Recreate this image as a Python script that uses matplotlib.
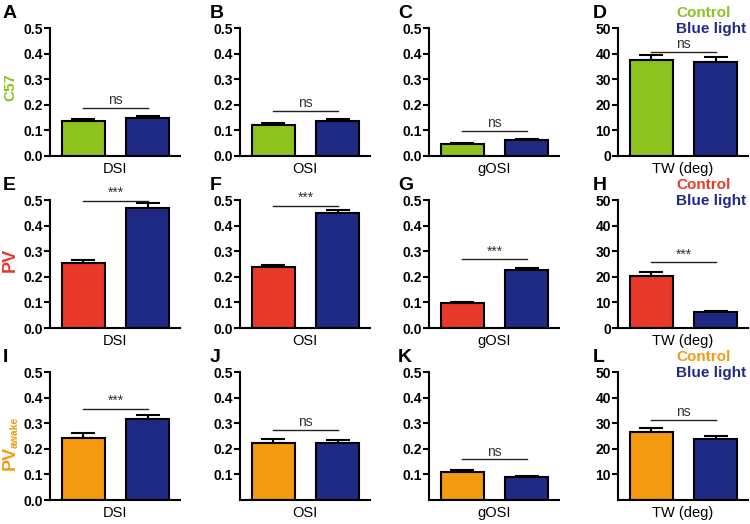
import matplotlib
matplotlib.use("Agg")
import matplotlib.pyplot as plt

plt.rcParams['font.family'] = ['Liberation Sans', 'DejaVu Sans']

# ---- data ----
groups = ["Control", "Blue light"]
row_names = ["C57", "PV", "PV", "awake"]
metrics = ["DSI", "OSI", "gOSI", "TW (deg)"]
panel_letters = [["A", "B", "C", "D"], ["E", "F", "G", "H"], ["I", "J", "K", "L"]]

# means [row][col] = (control, blue)
c57_means = [(0.137, 0.147), (0.121, 0.138), (0.048, 0.061), (37.5, 36.8)]
c57_sems = [(0.008, 0.009), (0.007, 0.008), (0.004, 0.004), (1.9, 1.7)]
c57_sig = ["ns", "ns", "ns", "ns"]
c57_sig_y = [0.188, 0.176, 0.099, 40.6]

pv_means = [(0.254, 0.470), (0.2395, 0.448), (0.097, 0.225), (20.5, 6.1)]
pv_sems = [(0.011, 0.017), (0.008, 0.014), (0.004, 0.011), (1.3, 0.4)]
pv_sig = ["***", "***", "***", "***"]
pv_sig_y = [0.497, 0.478, 0.269, 25.6]

pvaw_means = [(0.244, 0.316), (0.223, 0.223), (0.108, 0.090), (26.4, 23.8)]
pvaw_sems = [(0.016, 0.016), (0.016, 0.012), (0.009, 0.004), (1.8, 1.3)]
pvaw_sig = ["***", "ns", "ns", "ns"]
pvaw_sig_y = [0.357, 0.274, 0.159, 31.3]

row_colors = ["#8dc21f", "#e8392a", "#f39a10"]
blue = "#1f2a85"

means = [c57_means, pv_means, pvaw_means]
sems = [c57_sems, pv_sems, pvaw_sems]
sigs = [c57_sig, pv_sig, pvaw_sig]
sig_ys = [c57_sig_y, pv_sig_y, pvaw_sig_y]

W, H = 750, 524
fig = plt.figure(figsize=(7.5, 5.24), dpi=100)

col_left = [50, 240, 429, 618]
row_top = [28, 200, 372]
ax_w, ax_h = 130, 128
letter_dx = [47, 30, 31, 25]

for r in range(3):
    for c in range(4):
        l = col_left[c] / W
        b = 1 - (row_top[r] + ax_h) / H
        ax = fig.add_axes([l, b, ax_w / W, ax_h / H])
        m = means[r][c]
        s = sems[r][c]
        ymax = 50 if c == 3 else 0.5
        cols = [row_colors[r], blue]
        xs = [0, 1]
        ax.bar(xs, m, width=0.667, color=cols, edgecolor="black", linewidth=1.5, zorder=2)
        ax.errorbar(xs, m, yerr=[[0, 0], list(s)], fmt="none", ecolor="black",
                    elinewidth=1.5, capsize=8.5, capthick=1.5, zorder=1)
        ax.set_xlim(-0.52, 1.5)
        ax.set_ylim(0, ymax)
        if c == 3:
            ticks = [0, 10, 20, 30, 40, 50]
            labels = ["0", "10", "20", "30", "40", "50"]
        else:
            ticks = [0, 0.1, 0.2, 0.3, 0.4, 0.5]
            labels = ["0.0", "0.1", "0.2", "0.3", "0.4", "0.5"]
        if r == 2 and c > 0:
            ticks, labels = ticks[1:], labels[1:]
        ax.set_yticks(ticks)
        ax.set_yticklabels(labels, fontweight="bold", fontsize=10)
        ax.set_xticks([])
        ax.tick_params(axis="y", direction="out", length=4, width=1.5, pad=1)
        for sp in ["top", "right"]:
            ax.spines[sp].set_visible(False)
        for sp in ["left", "bottom"]:
            ax.spines[sp].set_linewidth(1.5)
        ax.set_xlabel(metrics[c], fontsize=10.5, labelpad=4)
        # significance line
        y = sig_ys[r][c]
        ax.plot([0, 1], [y, y], color="#222222", linewidth=1.0, clip_on=False)
        ax.text(0.5, y + ymax * 0.006, sigs[r][c], ha="center", va="bottom",
                fontsize=10, color="#333333", clip_on=False)
        # panel letter
        fig.text((col_left[c] - letter_dx[c]) / W, 1 - (row_top[r] - 23) / H,
                 panel_letters[r][c], fontsize=14, fontweight="bold", va="top", ha="left")
        if c == 3:
            lx = (col_left[c] + 58) / W
            fig.text(lx, 1 - (row_top[r] - 15) / H, groups[0], color=row_colors[r],
                     fontsize=11, fontweight="bold", va="center", ha="left")
            fig.text(lx, 1 - (row_top[r] + 1) / H, groups[1], color=blue,
                     fontsize=11, fontweight="bold", va="center", ha="left")

# row labels
fig.text(10 / W, 1 - 87 / H, row_names[0], color=row_colors[0], fontsize=11,
         fontweight="bold", rotation=90, ha="center", va="center")
fig.text(10 / W, 1 - 260 / H, row_names[1], color=row_colors[1], fontsize=13,
         fontweight="bold", rotation=90, ha="center", va="center")
fig.text(10 / W, 1 - 470 / H, row_names[2], color=row_colors[2], fontsize=13,
         fontweight="bold", rotation=90, ha="center", va="bottom")
fig.text(15 / W, 1 - 448 / H, row_names[3], color=row_colors[2], fontsize=7.5,
         fontweight="bold", rotation=90, ha="center", va="bottom")

fig.savefig("out.png", dpi=100)
